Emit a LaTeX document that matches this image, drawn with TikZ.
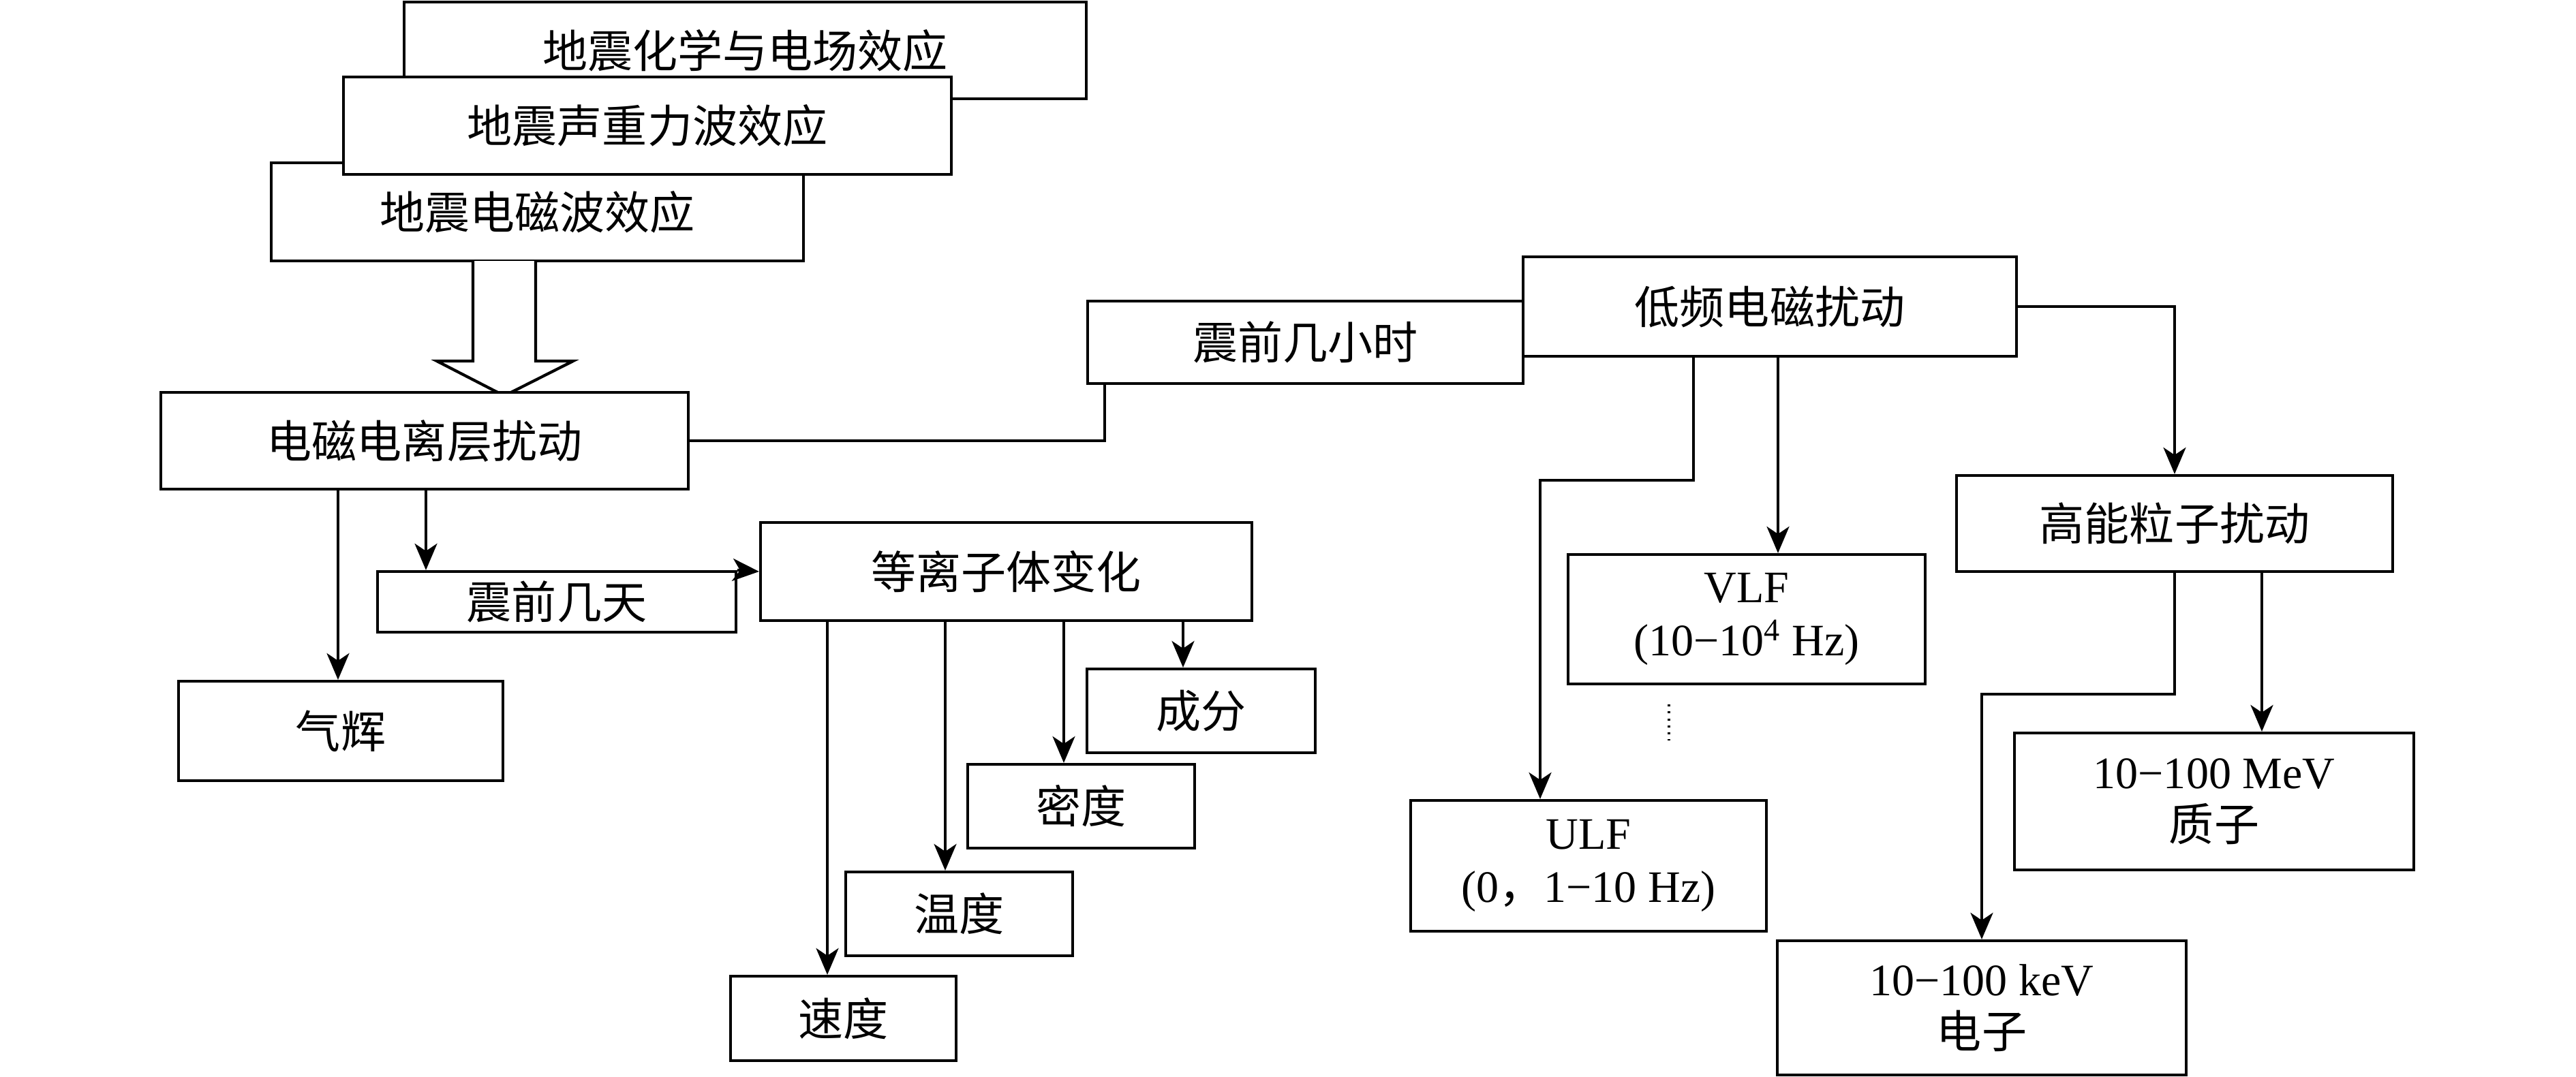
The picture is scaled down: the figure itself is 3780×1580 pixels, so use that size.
\documentclass[tikz,border=0pt]{standalone}
\usepackage{fontspec}
\setmainfont{Liberation Serif}
\newfontfamily\cjk{Noto Sans CJK SC}
\usetikzlibrary{calc, arrows.meta}
\tikzset{
  cell/.style={draw, line width=1.2pt, fill=white, inner sep=0pt, align=center,
    font=\fontsize{18.8}{22}\selectfont\cjk},
  link/.style={line width=1.15pt, -{Stealth[length=3.9mm, width=3.3mm, inset=1.1mm]}},
}

\begin{document}
\begin{tikzpicture}[x=0.1mm, y=-0.1mm]
\useasboundingbox (0,0) rectangle (3780,1580);

\node[cell, minimum width=100.1mm, minimum height=14.2mm] (chem) at (1093.5,74) {地震化学与电场效应};
\node[cell, minimum width=78.1mm, minimum height=14.4mm] (emwave) at (788.5,311) {地震电磁波效应};
\node[cell, minimum width=89.2mm, minimum height=14.3mm] (acoustic) at (950,184.5) {地震声重力波效应};

\draw[line width=1.2pt, fill=white] (694,383) -- (694,530) -- (641,530) -- (740,581)
  -- (841,530) -- (786,530) -- (786,383);

\node[cell, minimum width=77.4mm, minimum height=14.2mm] (iono) at (623,647) {电磁电离层扰动};
\node[cell, minimum width=63.9mm, minimum height=12.1mm] (hours) at (1915.5,502.5) {震前几小时};
\node[cell, minimum width=72.4mm, minimum height=14.6mm] (lowfreq) at (2597,450) {低频电磁扰动};
\node[cell, minimum width=52.6mm, minimum height=8.9mm] (days) at (817,883.5) {震前几天};
\node[cell, minimum width=72.1mm, minimum height=14.4mm] (plasma) at (1476.5,839) {等离子体变化};
\node[cell, minimum width=47.6mm, minimum height=14.6mm] (airglow) at (500,1073) {气辉};
\node[cell, minimum width=33.5mm, minimum height=12.3mm] (comp) at (1762.5,1043.5) {成分};
\node[cell, minimum width=33.3mm, minimum height=12.3mm] (dens) at (1586.5,1183.5) {密度};
\node[cell, minimum width=33.3mm, minimum height=12.3mm] (temp) at (1407.5,1341.5) {温度};
\node[cell, minimum width=33.1mm, minimum height=12.4mm] (speed) at (1237.5,1495) {速度};
\node[cell, minimum width=64mm, minimum height=14.1mm] (particle) at (3191,768.5) {高能粒子扰动};
\node[cell, minimum width=52.4mm, minimum height=19mm] (vlf) at (2563,909)
  {{\rmfamily VLF}\\{\rmfamily (10−10\textsuperscript{4} Hz)}};
\node[cell, minimum width=52.2mm, minimum height=19.2mm] (ulf) at (2331,1271)
  {{\rmfamily ULF}\\{\rmfamily (0}，{\rmfamily 1−10 Hz)}};
\node[cell, minimum width=58.6mm, minimum height=20.1mm] (mev) at (3249,1176.5)
  {{\rmfamily 10−100 MeV}\\质子};
\node[cell, minimum width=60mm, minimum height=19.7mm] (kev) at (2908,1479.5)
  {{\rmfamily 10−100 keV}\\电子};

\draw[line width=1.15pt] (iono.east) -| ([xshift=2.7mm]hours.south west);
\draw[link] (lowfreq.east) -| (particle.north);
\draw[link] ([xshift=4.6mm]vlf.north |- lowfreq.south) -- ([xshift=4.6mm]vlf.north);
\draw[link] ([xshift=-11.2mm]lowfreq.south) -- ++(0,180) -| ([xshift=-7.1mm]ulf.north);
\draw[dotted, line width=0.9pt] ([xshift=-11.4mm,yshift=-2.8mm]vlf.south) -- ++(0,53);
\draw[link] ([xshift=7mm]mev.north |- particle.south) -- ([xshift=7mm]mev.north);
\draw[link] (particle.south) -- ++(0,178) -| (kev.north);

\draw[link] ([xshift=-0.4mm]airglow.north |- iono.south) -- ([xshift=-0.4mm]airglow.north);
\draw[link] ([xshift=-19.2mm]days.north |- iono.south) -- ([xshift=-19.2mm]days.north);
\draw[link] (days.north east) -- (plasma.west);
\draw[link] ([xshift=-2.35mm]speed.north |- plasma.south) -- ([xshift=-2.35mm]speed.north);
\draw[link] ([xshift=-2.05mm]temp.north |- plasma.south) -- ([xshift=-2.05mm]temp.north);
\draw[link] ([xshift=-2.55mm]dens.north |- plasma.south) -- ([xshift=-2.55mm]dens.north);
\draw[link] ([xshift=-2.65mm]comp.north |- plasma.south) -- ([xshift=-2.65mm]comp.north);
\end{tikzpicture}
\end{document}
